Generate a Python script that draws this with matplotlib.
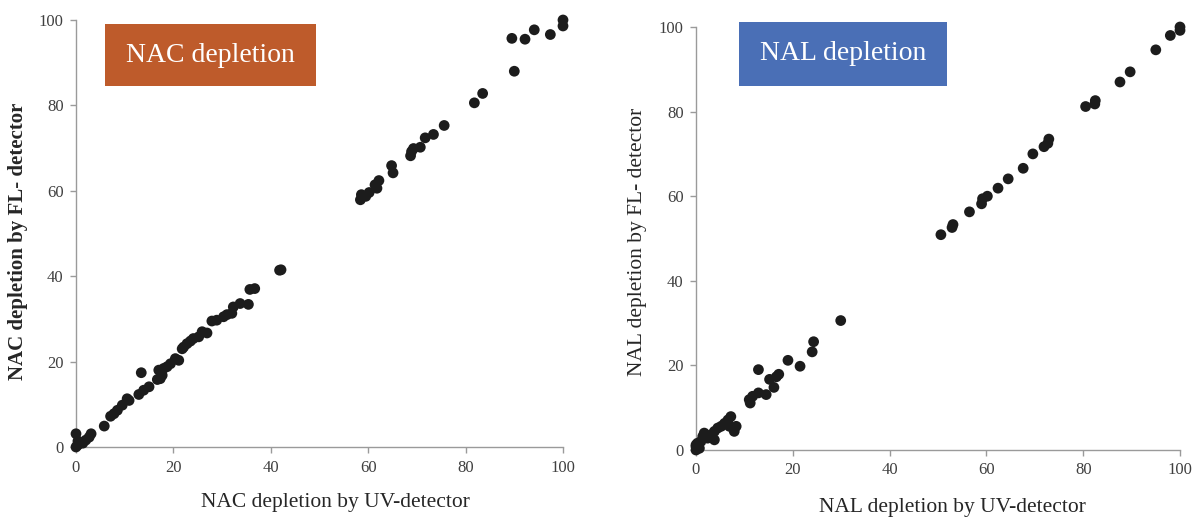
import matplotlib
matplotlib.use("Agg")
import matplotlib.pyplot as plt
from matplotlib.patches import Rectangle

# ---- data: NAC (left panel) ----
nac_uv = [100, 100, 97.4, 94.1, 92.2, 89.5, 90.0, 83.5, 81.8, 75.6, 73.4, 71.7, 70.7,
          68.9, 68.7, 69.3, 64.8, 65.1, 62.2, 61.4, 61.8, 60.2, 58.6, 58.4, 59.5,
          41.8, 42.1, 36.7, 35.7, 35.4, 33.7, 32.3, 32.0, 31.0, 30.3, 28.9, 27.9,
          26.9, 25.9, 25.2, 24.1, 23.5, 22.8, 22.1, 21.8, 21.1, 20.4, 19.4, 18.7,
          18.0, 17.0, 17.3, 16.7, 17.7, 13.4, 15.0, 13.9, 12.9, 10.9, 10.5, 9.5,
          8.5, 7.8, 7.1, 5.8, 3.1, 2.7, 2.0, 1.4, 0.0, 0.3, 0.0, 0.7, 0.4]
nac_fl = [100, 98.6, 96.6, 97.7, 95.5, 95.7, 88.0, 82.8, 80.6, 75.3, 73.2, 72.4, 70.2,
          69.2, 68.2, 69.9, 65.9, 64.2, 62.4, 61.4, 60.6, 59.6, 59.1, 57.9, 58.7,
          41.4, 41.5, 37.1, 36.9, 33.4, 33.6, 32.8, 31.3, 31.0, 30.5, 29.7, 29.5,
          26.7, 27.0, 25.8, 25.4, 24.8, 24.2, 23.4, 23.0, 20.3, 20.7, 19.5, 18.8,
          18.4, 18.0, 16.0, 15.8, 16.8, 17.4, 14.1, 13.3, 12.3, 10.9, 11.3, 9.8,
          8.6, 7.8, 7.2, 4.9, 3.1, 2.3, 1.6, 0.9, 3.1, 0.4, 0.0, 0.8, 1.4]

# ---- data: NAL (right panel) ----
nal_uv = [100, 100, 98.0, 95.0, 89.7, 87.6, 82.5, 82.4, 80.5, 72.9, 72.7, 71.9, 69.6,
          67.6, 64.5, 62.4, 60.2, 59.2, 59.0, 56.5, 53.1, 52.9, 50.6, 29.9, 24.3,
          24.0, 21.5, 19.0, 17.1, 16.6, 16.1, 15.2, 14.5, 12.9, 12.9, 11.7, 11.2,
          11.0, 7.2, 8.3, 7.9, 6.6, 6.9, 5.9, 5.2, 4.5, 3.8, 3.8, 3.1, 2.4, 1.7,
          1.4, 1.0, 0.3, 0.0, 0.0, 0.7, 0.0]
nal_fl = [100, 99.2, 98.0, 94.6, 89.4, 87.0, 82.6, 81.8, 81.2, 73.5, 72.5, 71.7, 70.0,
          66.6, 64.1, 61.9, 60.0, 59.4, 58.2, 56.3, 53.3, 52.6, 50.9, 30.6, 25.6,
          23.2, 19.8, 21.2, 17.9, 17.3, 14.8, 16.7, 13.1, 19.0, 13.5, 12.7, 11.1,
          11.9, 7.9, 5.6, 4.4, 7.1, 5.6, 6.3, 5.6, 5.2, 4.4, 2.4, 3.6, 2.8, 4.0,
          3.2, 2.0, 1.6, 0.8, 0.0, 0.4, 1.2]

ticks = [0, 20, 40, 60, 80, 100]

plt.rcParams['font.family'] = ['Liberation Serif', 'DejaVu Serif']

fig = plt.figure(figsize=(11.95, 5.2), dpi=100)

panels = [
    dict(x=nac_uv, y=nac_fl, rect=[76/1195, 1-447/520, 487/1195, 427/520],
         xlabel="NAC depletion by UV-detector", ylabel="NAC depletion by FL- detector",
         title="NAC depletion", color="#BE5B2B", box=(105, 24, 211, 62),
         xlc=(0.532, -0.131), ylc=(-0.119, 0.482), yw="bold", ys=15),
    dict(x=nal_uv, y=nal_fl, rect=[696/1195, 1-450/520, 484/1195, 423/520],
         xlabel="NAL depletion by UV-detector", ylabel="NAL depletion by FL- detector",
         title="NAL depletion", color="#4A6FB6", box=(739, 22, 208, 64),
         xlc=(0.530, -0.137), ylc=(-0.120, 0.492), yw="normal", ys=15.5),
]

for p in panels:
    ax = fig.add_axes(p["rect"])
    ax.scatter(p["x"], p["y"], s=60, color="#1c1c1c", edgecolors="none", zorder=3,
               clip_on=False)
    ax.set_xlim(0, 100)
    ax.set_ylim(0, 100)
    ax.set_xticks(ticks)
    ax.set_yticks(ticks)
    for side in ("top", "right"):
        ax.spines[side].set_visible(False)
    for side in ("left", "bottom"):
        ax.spines[side].set_color("#9a9a9a")
        ax.spines[side].set_linewidth(1.0)
    ax.tick_params(direction="out", length=4, width=1, color="#9a9a9a",
                   labelsize=12, labelcolor="#404040", pad=5)
    ax.set_xlabel(p["xlabel"], fontsize=15.5, color="#262626", va="center")
    ax.xaxis.set_label_coords(*p["xlc"])
    ax.set_ylabel(p["ylabel"], fontsize=p["ys"], color="#262626",
                  fontweight=p["yw"], va="center")
    ax.yaxis.set_label_coords(*p["ylc"])
    bx, by, bw, bh = p["box"]
    fig.patches.append(Rectangle((bx/1195, 1-(by+bh)/520), bw/1195, bh/520,
                                 transform=fig.transFigure, facecolor=p["color"],
                                 edgecolor="none", zorder=5))
    fig.text((bx + bw/2)/1195, 1-(by + bh/2)/520, p["title"], color="white",
             fontsize=20, ha="center", va="center", zorder=6)

fig.savefig("out.png", dpi=100)
